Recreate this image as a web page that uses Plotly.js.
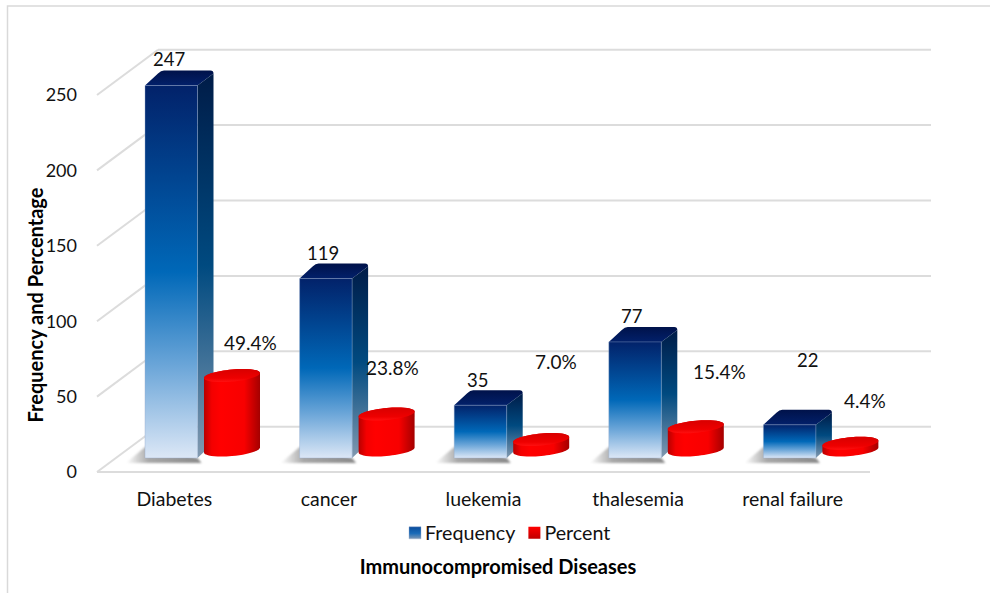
<!DOCTYPE html>
<html>
<head>
<meta charset="utf-8">
<script src="https://cdn.plot.ly/plotly-3.0.1.min.js"></script>
<style>html,body{margin:0;padding:0;background:#fff}#chart{width:990px;height:593px}</style>
</head>
<body>
<div id="chart"></div>
<script>
// Chart data
const categories = ['Diabetes', 'cancer', 'luekemia', 'thalesemia', 'renal failure'];
const frequency = [247, 119, 35, 77, 22];
const percent = [49.4, 23.8, 7.0, 15.4, 4.4];
const yTicks = [0, 50, 100, 150, 200, 250];

// Axis scale: pixels per category slot and per value unit
const SLOT = 154.6, UNIT = 1.508;
const W = 990, H = 593;
const sx = p => p / SLOT, sy = p => p / UNIT;

// Pseudo-3D room geometry, in pixels
const WALL_DX = sx(61), WALL_DY = sy(45.3);
const AX_LEFT = -0.5;
const BAR_BASE = sy(14), CYL_BASE = sy(22);
const BAR_OFFSET = sx(-29.3), BAR_WIDTH = sx(52.5);
const CYL_CENTER = sx(57.7), CYL_WIDTH = sx(50);
const BAR_DX = sx(16), BAR_DY = sy(15);

// Label offsets from each mark, in pixels (dx from slot centre, dy above the mark)
const freqLabelOffset = [[-5, 26.5], [-6, 25.5], [-6.5, 25], [-7, 26], [15, 65]];
const pctLabelOffset = [[75.7, 33.5], [64, 47], [72.5, 78], [81, 55], [72.3, 43]];

const GRID = '#dcdcdc';
const shapes = [];
const fills = [];   // [shape index, gradient id]
const addShape = (s, grad, blur) => {
  shapes.push(Object.assign({xref: 'x', yref: 'y', layer: 'below'}, s));
  if (grad) fills.push([shapes.length - 1, grad, blur]);
};

// Chart frame
shapes.push({type: 'path', xref: 'paper', yref: 'paper', layer: 'below',
  path: `M ${7.5 / W},0 L ${7.5 / W},${1 - 6 / H} L 1,${1 - 6 / H}`,
  line: {color: '#d9d9d9', width: 1.5}});

// Back wall, left wall and floor
yTicks.forEach(v => {
  addShape({type: 'line', x0: AX_LEFT, x1: AX_LEFT + WALL_DX, y0: v, y1: v + WALL_DY, line: {color: GRID, width: 2}});
  addShape({type: 'line', x0: AX_LEFT + WALL_DX, x1: 4.5 + WALL_DX, y0: v + WALL_DY, y1: v + WALL_DY, line: {color: GRID, width: 2}});
});
addShape({type: 'line', x0: AX_LEFT, x1: 4.5, y0: 0, y1: 0, line: {color: GRID, width: 2}});

// Faces of the frequency columns that sit behind the front face
frequency.forEach((v, i) => {
  const L = i + BAR_OFFSET, R = L + BAR_WIDTH, B = BAR_BASE, T = B + v;
  addShape({type: 'path', fillcolor: '#777', line: {width: 0},
    path: `M ${L},${B + sy(11)} L ${L - sx(19)},${B - sy(5)} L ${R + sx(4)},${B - sy(5)} L ${R},${B} Z`},
    'gShadow', true);
  addShape({type: 'path', fillcolor: '#00305f', line: {width: 0},
    path: `M ${R},${T} L ${R + BAR_DX},${T + BAR_DY - sy(3)} Q ${R + BAR_DX},${T + BAR_DY} ${R + BAR_DX - sx(3)},${T + BAR_DY} L ${L + BAR_DX + sx(3)},${T + BAR_DY} Q ${L + BAR_DX},${T + BAR_DY} ${L + BAR_DX - sx(3)},${T + BAR_DY - sy(3)} L ${L},${T} Z`},
    'gTop');
  addShape({type: 'path', fillcolor: '#00487a', line: {width: 0},
    path: `M ${R},${T} L ${R + BAR_DX},${T + BAR_DY - sy(3)} L ${R + BAR_DX},${B + BAR_DY} L ${R},${B} Z`},
    'gSide');
});

// Tilted ellipse arcs for the percent cylinders
const K = 0.5523, RX = 28, TILT = 2.5, RY = 6;
const arcLeftToRight = (cx, cy, sign) => {
  const pt = (px, py) => `${cx + sx(px)},${cy + sy(py)}`;
  return [
    `C ${pt(-RX, -TILT + sign * K * RY)} ${pt(-K * RX, -K * TILT + sign * RY)} ${pt(0, sign * RY)}`,
    `C ${pt(K * RX, K * TILT + sign * RY)} ${pt(RX, TILT + sign * K * RY)} ${pt(RX, TILT)}`
  ].join(' ');
};
const arcRightToLeft = (cx, cy, sign) => {
  const pt = (px, py) => `${cx + sx(px)},${cy + sy(py)}`;
  return [
    `C ${pt(RX, TILT + sign * K * RY)} ${pt(K * RX, K * TILT + sign * RY)} ${pt(0, sign * RY)}`,
    `C ${pt(-K * RX, -K * TILT + sign * RY)} ${pt(-RX, -TILT + sign * K * RY)} ${pt(-RX, -TILT)}`
  ].join(' ');
};

percent.forEach((v, i) => {
  const cx = i + CYL_CENTER, B = CYL_BASE, T = B + v;
  addShape({type: 'path', fillcolor: '#e60000', line: {width: 0},
    path: `M ${cx - sx(RX)},${T - sy(TILT)} ${arcLeftToRight(cx, T, 1)} L ${cx + sx(RX)},${B + sy(TILT)} ${arcRightToLeft(cx, B, -1)} Z`},
    'gCyl');
});

// Caps of the percent cylinders, drawn over the bars
percent.forEach((v, i) => {
  const cx = i + CYL_CENTER, T = CYL_BASE + v;
  addShape({type: 'path', layer: 'above', fillcolor: '#ee0000', line: {width: 0},
    path: `M ${cx - sx(RX)},${T - sy(TILT)} ${arcLeftToRight(cx, T, 1)} ${arcRightToLeft(cx, T, -1)} Z`},
    'gCap');
});

// Value labels
const FONT = 'Lato, sans-serif';
const annotations = [];
frequency.forEach((v, i) => annotations.push({
  xref: 'x', yref: 'y', x: i + sx(freqLabelOffset[i][0]), y: BAR_BASE + v + sy(freqLabelOffset[i][1]),
  text: String(v), showarrow: false, font: {family: FONT, size: 18.5, color: '#111'}, xanchor: 'center', yanchor: 'middle'}));
percent.forEach((v, i) => annotations.push({
  xref: 'x', yref: 'y', x: i + sx(pctLabelOffset[i][0]), y: CYL_BASE + v + sy(pctLabelOffset[i][1]),
  text: v.toFixed(1) + '%', showarrow: false, font: {family: FONT, size: 19, color: '#111'}, xanchor: 'center', yanchor: 'middle'}));

const traces = [
  {type: 'bar', name: 'Frequency', x: categories, y: frequency, base: BAR_BASE,
   offset: BAR_OFFSET, width: BAR_WIDTH,
   marker: {color: '#0068b8', line: {color: 'rgba(150,172,205,0.4)', width: 1}}},
  {type: 'bar', name: 'Percent', x: categories, y: percent, base: CYL_BASE,
   offset: CYL_CENTER - CYL_WIDTH / 2, width: CYL_WIDTH,
   marker: {color: '#ff0000', line: {width: 0}}}
];

const layout = {
  width: W, height: H,
  margin: {l: 0, r: 0, t: 0, b: 0},
  paper_bgcolor: '#fff', plot_bgcolor: 'rgba(0,0,0,0)',
  font: {family: FONT, size: 18, color: '#111'},
  barmode: 'overlay',
  showlegend: true,
  legend: {orientation: 'h', x: 385 / W, xanchor: 'left', y: 1 - 533 / H, yanchor: 'middle',
    font: {family: FONT, size: 19.7, color: '#111'}, bgcolor: 'rgba(0,0,0,0)', itemclick: false},
  xaxis: {
    type: 'category', categoryorder: 'array', categoryarray: categories,
    domain: [65 / W, 931 / W],
    range: [AX_LEFT - sx(32), AX_LEFT + sx(834)],
    anchor: 'free', position: 1 - 472 / H,
    showgrid: false, zeroline: false, showline: false, ticks: '',
    ticklabelstandoff: 13, tickfont: {family: FONT, size: 19.5, color: '#111'},
    title: {text: 'Immunocompromised Diseases', standoff: 51,
      font: {family: FONT, size: 20, color: '#000', weight: 'bold'}}
  },
  yaxis: {
    domain: [1 - 570 / H, 1 - 40 / H],
    range: [sy(472 - 570), sy(472 - 40)],
    anchor: 'free', position: 97 / W,
    tickvals: yTicks,
    showgrid: false, zeroline: false, showline: false, ticks: '',
    ticklabelstandoff: 20, tickfont: {family: FONT, size: 18, color: '#111'},
    title: {text: 'Frequency and Percentage', standoff: 0,
      font: {family: FONT, size: 20, color: '#000', weight: 'bold'}}
  },
  shapes, annotations
};

// Colour ramps: [id, x2, y2, stops]
const gradients = [
  ['gFront', 0, 1, [[0, '#02226a'], [0.5, '#0068b8'], [0.75, '#6aa5d8'], [1, '#dce7f6']]],
  ['gSide', 0, 1, [[0, '#001c48'], [0.5, '#004a80'], [1, '#8199b0']]],
  ['gTop', 0, 1, [[0, '#00124a'], [1, '#02206a']]],
  ['gShadow', 1, 0, [[0, '#ffffff'], [0.3, '#a8a8a8'], [1, '#8a8a8a']]],
  ['gCyl', 1, 0, [[0, '#b80000'], [0.14, '#f40000'], [0.3, '#ff0000'], [0.72, '#f80000'], [1, '#a40000']]],
  ['gCap', 0, 1, [[0, '#d80000'], [0.7, '#ee0000'], [1, '#ff1010']]],
  ['gLegBlue', 0, 1, [[0, '#0a4c9c'], [0.55, '#1a6bb8'], [1, '#7c96b4']]],
  ['gLegRed', 0, 1, [[0, '#ff0000'], [1, '#c00000']]]
];

const chart = document.getElementById('chart');
Plotly.newPlot(chart, traces, layout, {displayModeBar: false, staticPlot: true}).then(() => {
  const NS = 'http://www.w3.org/2000/svg';
  const svg = chart.querySelector('svg.main-svg');
  const defs = document.createElementNS(NS, 'defs');
  svg.insertBefore(defs, svg.firstChild);

  const addGradient = (id, stops, attrs) => {
    const g = document.createElementNS(NS, 'linearGradient');
    g.setAttribute('id', id);
    Object.entries(attrs).forEach(([k, v]) => g.setAttribute(k, v));
    stops.forEach(([o, c]) => {
      const s = document.createElementNS(NS, 'stop');
      s.setAttribute('offset', o);
      s.setAttribute('stop-color', c);
      g.appendChild(s);
    });
    defs.appendChild(g);
  };
  gradients.forEach(g => addGradient(g[0], g[3], {x1: 0, y1: 0, x2: g[1], y2: g[2]}));

  const blur = document.createElementNS(NS, 'filter');
  blur.setAttribute('id', 'softEdge');
  const fe = document.createElementNS(NS, 'feGaussianBlur');
  fe.setAttribute('stdDeviation', '1.2');
  blur.appendChild(fe);
  defs.appendChild(blur);

  fills.forEach(([idx, id, soft]) => {
    chart.querySelectorAll(`.shapelayer path[data-index="${idx}"]`).forEach(p => {
      p.style.fill = `url(#${id})`;
      if (soft) p.setAttribute('filter', 'url(#softEdge)');
    });
  });

  const barTraces = chart.querySelectorAll('.barlayer .trace.bars');
  barTraces[0].querySelectorAll('.point path').forEach(p => { p.style.fill = 'url(#gFront)'; });
  const cylStops = gradients.find(g => g[0] === 'gCyl')[3];
  barTraces[1].querySelectorAll('.point path').forEach((p, i) => {
    const box = p.getBBox();
    const id = 'gCylBar' + i;
    addGradient(id, cylStops, {gradientUnits: 'userSpaceOnUse',
      x1: box.x - 3, x2: box.x + box.width + 3, y1: 0, y2: 0});
    p.style.fill = `url(#${id})`;
  });

  // Legend: tighten the swatch-to-text and entry spacing
  const swatches = chart.querySelectorAll('.legend .legendpoints path');
  if (swatches[0]) swatches[0].style.fill = 'url(#gLegBlue)';
  if (swatches[1]) swatches[1].style.fill = 'url(#gLegRed)';
  chart.querySelectorAll('.legend .legendpoints').forEach(g => g.setAttribute('transform', 'translate(10,0)'));
  const entries = chart.querySelectorAll('.legend .traces');
  if (entries[1]) {
    const m = /translate\(([-\d.]+),\s*([-\d.]+)\)/.exec(entries[1].getAttribute('transform'));
    if (m) entries[1].setAttribute('transform', `translate(${parseFloat(m[1]) - 16},${m[2]})`);
  }

  // Nudge the value-axis title closer to its tick labels
  const yTitle = chart.querySelector('.ytitle');
  if (yTitle) yTitle.setAttribute('transform', 'translate(5,0) ' + (yTitle.getAttribute('transform') || ''));
});
</script>
</body>
</html>
